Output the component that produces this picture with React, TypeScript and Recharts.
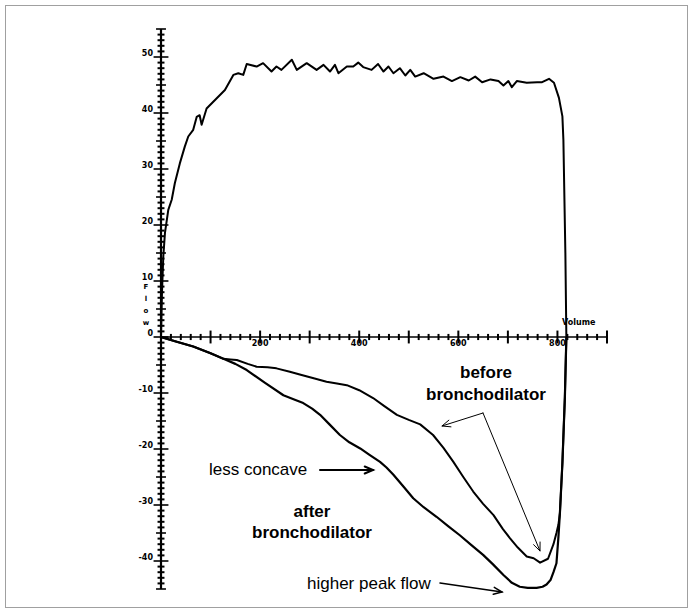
import { LineChart, Line, XAxis, YAxis, ReferenceLine } from "recharts";

// Flow-volume loop, volume on x, flow on y
const expirationPoints: [number, number][] = [
  [0, 0], [2, 8], [4.6, 14.3], [8, 18.6], [14.7, 22.7], [21.6, 24.5], [28, 27.5],
  [38, 31], [48, 34], [55, 35.8], [65, 37], [72, 39.3], [78, 39.6], [82, 37.9],
  [92, 40.8], [112, 42.6], [129, 44.1], [146, 46.8], [156, 47.1], [166, 46.8],
  [173, 48.75], [193, 48.3], [206, 48.9], [223, 47.4], [233, 48.3], [243, 47.7],
  [264, 49.5], [274, 47.7], [294, 48.9], [314, 47.7], [328, 48.6], [341, 47.4],
  [351, 48.6], [358, 47.1], [375, 48.3], [388, 48.3], [398, 49], [408, 48.2],
  [425, 47.7], [438, 48.75], [449, 47.4], [459, 48.3], [469, 47.1], [482, 48],
  [493, 46.7], [503, 47.7], [513, 46.5], [530, 47.1], [550, 46.1], [570, 46.5],
  [587, 45.7], [604, 46.4], [621, 45.8], [634, 46.5], [648, 45.5], [665, 46],
  [681, 45.7], [691, 44.9], [701, 45.7], [708, 44.6], [718, 45.7], [738, 45.4],
  [759, 45.5], [769, 45.5], [783, 46.1], [793, 45.4], [803, 42.7], [810, 39.4],
  [812, 35.2], [816, 15], [818, 0],
];

const beforePoints: [number, number][] = [
  [0, 0], [30, -0.8], [65, -1.7], [100, -2.9], [126, -3.9], [140, -4.0],
  [153, -4.1], [175, -4.8], [193, -5.3], [215, -5.4], [233, -5.6], [260, -6.2],
  [280, -6.7], [310, -7.4], [334, -8.0], [355, -8.3], [375, -8.6], [400, -9.5],
  [428, -10.9], [450, -12.3], [476, -13.9], [500, -14.8], [523, -15.6],
  [549, -17.5], [570, -19.8], [590, -22.3], [610, -25], [630, -27.6],
  [650, -29.8], [671, -31.8], [690, -34.3], [704, -35.9], [720, -37.6],
  [738, -39.2], [752, -39.5], [765, -40.3], [781, -39.6], [792, -37],
  [798, -35], [802, -33.5], [805, -31.4], [810, -22.5], [815, -10.7], [818, 0],
];

const afterPoints: [number, number][] = [
  [0, 0], [30, -0.8], [65, -1.7], [100, -2.9], [126, -3.9], [150, -4.8],
  [173, -5.9], [210, -8.2], [247, -10.4], [270, -11.2], [287, -11.8],
  [305, -12.8], [321, -13.9], [340, -15.6], [361, -17.5], [380, -18.8],
  [402, -19.9], [420, -21], [442, -22.3], [455, -23.3], [469, -24.6],
  [490, -26.8], [509, -28.8], [530, -30.4], [556, -32.1], [580, -33.8],
  [603, -35.4], [627, -37.2], [650, -38.9], [670, -40.6], [691, -42.5],
  [708, -43.9], [724, -44.6], [740, -44.8], [758, -44.8], [770, -44.6],
  [778, -44.2], [786, -43.4], [792, -42], [798, -40.4], [802, -35.7],
  [805, -31.4], [810, -22.5], [815, -10.7], [818, 0],
];

const xLabels = [200, 400, 600, 800];
const yLabels = [-40, -30, -20, -10, 0, 10, 20, 30, 40, 50];

const X_MAX = 900;
const Y_MIN = -45;
const Y_MAX = 55;

const toRows = (pts: [number, number][]) =>
  pts.map(([volume, flow]) => ({ volume, flow }));

const expiration = toRows(expirationPoints);
const beforeBronchodilator = toRows(beforePoints);
const afterBronchodilator = toRows(afterPoints);

// tick positions along the axes
const xTicks: number[] = [];
for (let v = 0; v <= X_MAX; v += 20) xTicks.push(v);
const yTicks: number[] = [];
for (let v = Y_MIN; v <= Y_MAX; v += 1) yTicks.push(v);

const YTick = ({ x, y, payload }: any) => (
  <text
    x={x}
    y={y - 1}
    textAnchor="end"
    fontSize={8}
    fontWeight="bold"
    fontFamily="DejaVu Sans"
    fill="#000"
  >
    {payload.value}
  </text>
);

// little open-headed arrow for the annotations
function Arrow({ x1, y1, x2, y2, w = 1, head = 9 }: any) {
  const a = Math.atan2(y2 - y1, x2 - x1);
  const s = 0.4;
  const hx1 = x2 - head * Math.cos(a - s);
  const hy1 = y2 - head * Math.sin(a - s);
  const hx2 = x2 - head * Math.cos(a + s);
  const hy2 = y2 - head * Math.sin(a + s);
  return (
    <g stroke="#000" strokeWidth={w} fill="none" strokeLinecap="round">
      <line x1={x1} y1={y1} x2={x2} y2={y2} />
      <polyline points={`${hx1},${hy1} ${x2},${y2} ${hx2},${hy2}`} />
    </g>
  );
}

const textStyle = { fontFamily: "'Liberation Sans', Arial, sans-serif", fontSize: 17, fill: "#000" };

export default function App() {
  return (
    <div style={{ position: "relative", width: 693, height: 613, background: "#fff" }}>
      <style>{"body{margin:0}"}</style>
      <div
        style={{
          position: "absolute",
          left: 5,
          top: 5,
          width: 683,
          height: 603,
          border: "1px solid #a0a0a0",
          boxSizing: "border-box",
        }}
      />
      <LineChart
        width={693}
        height={613}
        margin={{ top: 29, right: 86, bottom: 24, left: 0 }}
        style={{ position: "absolute", left: 0, top: 0 }}
      >
        <XAxis type="number" dataKey="volume" domain={[0, X_MAX]} hide allowDataOverflow />
        <YAxis
          type="number"
          domain={[Y_MIN, Y_MAX]}
          ticks={yLabels}
          width={161}
          axisLine={false}
          tickLine={false}
          tick={<YTick />}
          allowDataOverflow
        />

        {/* axis lines through the origin */}
        <ReferenceLine x={0} stroke="#000" strokeWidth={2.2} ifOverflow="visible" />
        <ReferenceLine y={0} stroke="#000" strokeWidth={1.5} ifOverflow="visible" />

        {yTicks.map((v) => {
          const h = v % 10 === 0 ? 15 : v % 5 === 0 ? 10 : 7;
          return (
            <ReferenceLine
              key={`yt-${v}`}
              segment={[{ x: -h, y: v }, { x: h, y: v }]}
              stroke="#000"
              strokeWidth={v % 5 === 0 ? 1.6 : 2}
              ifOverflow="visible"
            />
          );
        })}

        {xTicks.map((v) => {
          const major = v % 100 === 0;
          const h = major ? 1.15 : 0.55;
          return (
            <ReferenceLine
              key={`xt-${v}`}
              segment={[{ x: v, y: -h }, { x: v, y: h }]}
              stroke="#000"
              strokeWidth={2}
              ifOverflow="visible"
              label={
                xLabels.includes(v)
                  ? {
                      value: String(v),
                      position: "bottom",
                      offset: -3,
                      fontSize: 8,
                      fontWeight: "bold",
                      fontFamily: "DejaVu Sans",
                      fill: "#000",
                    }
                  : undefined
              }
            />
          );
        })}

        <Line
          data={expiration}
          dataKey="flow"
          type="linear"
          stroke="#000"
          strokeWidth={2}
          dot={false}
          isAnimationActive={false}
          strokeLinejoin="round"
        />
        <Line
          data={beforeBronchodilator}
          dataKey="flow"
          type="linear"
          stroke="#000"
          strokeWidth={2}
          dot={false}
          isAnimationActive={false}
          strokeLinejoin="round"
        />
        <Line
          data={afterBronchodilator}
          dataKey="flow"
          type="linear"
          stroke="#000"
          strokeWidth={2.2}
          dot={false}
          isAnimationActive={false}
          strokeLinejoin="round"
        />
      </LineChart>

      {/* axis titles and annotations */}
      <svg
        width={693}
        height={613}
        style={{ position: "absolute", left: 0, top: 0, pointerEvents: "none" }}
      >
        {["F", "l", "o", "w"].map((c, i) => (
          <text
            key={c}
            x={146}
            y={289 + i * 12}
            textAnchor="middle"
            fontSize={7}
            fontWeight="bold"
            fontFamily="DejaVu Sans"
          >
            {c}
          </text>
        ))}
        <text x={562} y={325} fontSize={8} fontWeight="bold" fontFamily="DejaVu Sans">
          Volume
        </text>

        <text x={486} y={378} textAnchor="middle" fontWeight="bold" style={textStyle}>
          before
        </text>
        <text x={486} y={400} textAnchor="middle" fontWeight="bold" style={textStyle}>
          bronchodilator
        </text>
        <Arrow x1={483} y1={413} x2={442} y2={426} w={1} />
        <Arrow x1={483} y1={413} x2={540} y2={551} w={1} />

        <text x={209} y={475} style={textStyle}>
          less concave
        </text>
        <Arrow x1={320} y1={470} x2={373} y2={470} w={2} />

        <text x={312} y={517} textAnchor="middle" fontWeight="bold" style={textStyle}>
          after
        </text>
        <text x={312} y={538} textAnchor="middle" fontWeight="bold" style={textStyle}>
          bronchodilator
        </text>

        <text x={307} y={589} style={textStyle}>
          higher peak flow
        </text>
        <Arrow x1={440} y1={583} x2={502} y2={592} w={1.5} />
      </svg>
    </div>
  );
}
